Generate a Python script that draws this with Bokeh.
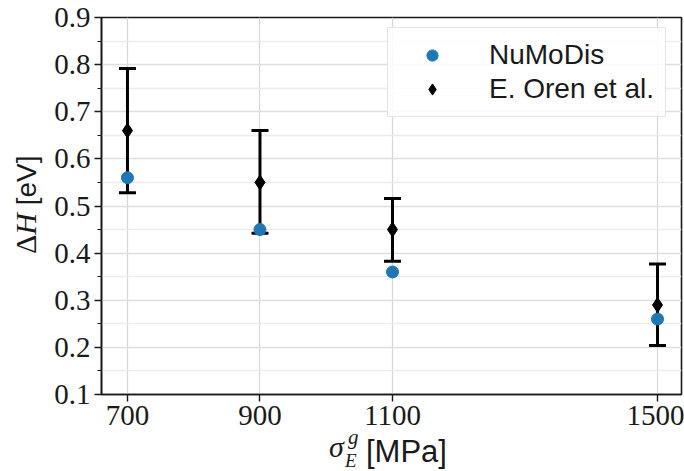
import math
from bokeh.plotting import figure
from bokeh.models import (ColumnDataSource, Whisker, TeeHead, Range1d, FixedTicker,
                          Legend, LegendItem, Div)
from bokeh.layouts import column, row
from bokeh.embed import file_html
from bokeh.resources import INLINE

# ---------------- data ----------------
stress = [700, 900, 1100, 1500]
numodis_dH = [0.56, 0.45, 0.36, 0.26]
oren_dH = [0.66, 0.55, 0.45, 0.29]
oren_lower = [0.528, 0.442, 0.383, 0.204]
oren_upper = [0.792, 0.660, 0.516, 0.377]

x_ticks = [700, 900, 1100, 1500]
x_tick_labels = ["700", "900", "1100", "1500"]
y_ticks = [0.1, 0.2, 0.3, 0.4, 0.5, 0.6, 0.7, 0.8, 0.9]
y_tick_labels = ["0.1", "0.2", "0.3", "0.4", "0.5", "0.6", "0.7", "0.8", "0.9"]
y_minor_ticks = [0.15, 0.25, 0.35, 0.45, 0.55, 0.65, 0.75, 0.85]

series_names = ["NuMoDis", "E. Oren et al."]

# ---------------- layout (page pixels) ----------------
PAGE_W, PAGE_H = 684, 471
YLAB_W = 46                 # column holding the rotated y label
FIG_H = 440                 # figure height; x label strip below it
XLAB_H = PAGE_H - FIG_H
FRAME_LEFT, FRAME_RIGHT, FRAME_TOP, FRAME_BOTTOM = 101, 681, 17, 394

SERIF = "Liberation Serif"
SANS = "Liberation Sans"

p = figure(width=PAGE_W - YLAB_W, height=FIG_H, output_backend="svg",
           toolbar_location=None,
           x_range=Range1d(660.8, 1536.2), y_range=Range1d(0.1, 0.9),
           min_border_left=FRAME_LEFT - YLAB_W, min_border_right=PAGE_W - FRAME_RIGHT,
           min_border_top=FRAME_TOP, min_border_bottom=FIG_H - FRAME_BOTTOM,
           margin=(0, 0, 0, 0))

p.background_fill_color = "white"
p.border_fill_color = "white"
p.outline_line_color = "#1a1a1a"
p.outline_line_width = 1.6

# axes
p.xaxis.ticker = FixedTicker(ticks=x_ticks)
p.xaxis.major_label_overrides = dict(zip(x_ticks, x_tick_labels))
p.yaxis.ticker = FixedTicker(ticks=y_ticks, minor_ticks=y_minor_ticks)
p.yaxis.major_label_overrides = dict(zip(y_ticks, y_tick_labels))

for ax in (p.xaxis[0], p.yaxis[0]):
    ax.axis_line_color = "#1a1a1a"
    ax.axis_line_width = 1.6
    ax.major_tick_line_color = "#1a1a1a"
    ax.major_tick_line_width = 1.4
    ax.major_tick_in = 0
    ax.major_tick_out = 7
    ax.minor_tick_line_color = "#1a1a1a"
    ax.minor_tick_line_width = 1.0
    ax.minor_tick_in = 0
    ax.minor_tick_out = 4
    ax.major_label_text_font = SERIF
    ax.major_label_text_font_size = "29px"
    ax.major_label_text_color = "#1a1a1a"
    ax.major_label_standoff = 4
p.xaxis.minor_tick_line_color = None

# grids
p.xgrid.ticker = FixedTicker(ticks=x_ticks)
p.xgrid.grid_line_color = "#d6d6d6"
p.xgrid.grid_line_width = 1.2
p.ygrid.ticker = FixedTicker(ticks=y_ticks, minor_ticks=y_minor_ticks)
p.ygrid.grid_line_color = "#dedede"
p.ygrid.grid_line_width = 1.4
p.ygrid.minor_grid_line_color = "#ececec"
p.ygrid.minor_grid_line_width = 1.4

# data
src = ColumnDataSource(dict(x=stress, numodis=numodis_dH, oren=oren_dH,
                            lower=oren_lower, upper=oren_upper))

whisk = Whisker(source=src, base="x", lower="lower", upper="upper",
                line_color="black", line_width=3, level="underlay",
                upper_head=TeeHead(size=17, line_width=3, line_color="black"),
                lower_head=TeeHead(size=17, line_width=3, line_color="black"))
p.add_layout(whisk)

r_oren = p.scatter("x", "oren", source=src, marker="diamond", size=15,
                   fill_color="black", line_color="black")
r_num = p.scatter("x", "numodis", source=src, marker="circle", size=12,
                  fill_color="#1f77b4", line_color="#1f77b4")

# legend-only glyph: vertical bar of the error-bar symbol
r_bar = p.scatter(x=[], y=[], marker="dash", angle=math.pi / 2, size=12,
                  line_color="black", line_width=2.5)

legend = Legend(items=[LegendItem(label=series_names[0], renderers=[r_num]),
                       LegendItem(label=series_names[1], renderers=[r_bar, r_oren])],
                location=(387 - FRAME_LEFT, FRAME_BOTTOM - 117))
legend.label_text_font = SANS
legend.label_text_font_size = "28px"
legend.label_text_line_height = 0.9
legend.label_text_color = "#1a1a1a"
legend.glyph_width = 66
legend.glyph_height = 28
legend.label_height = 20
legend.label_standoff = 24
legend.padding = 11
legend.spacing = 2
legend.margin = 0
legend.border_line_color = "#cccccc"
legend.border_line_width = 1
legend.background_fill_color = "white"
legend.background_fill_alpha = 0.85
p.add_layout(legend)

# ---------------- axis labels as real HTML text ----------------
INK = "#1a1a1a"


def piece(text, left, baseline, top0, font, size, style="normal", metric=0.8375):
    top = baseline - top0 - metric * size
    return (f'<div style="position:absolute;left:{left}px;top:{top:.1f}px;'
            f"font-family:'{font}';font-size:{size}px;font-style:{style};"
            f'line-height:{size}px;white-space:nowrap;color:{INK};">{text}</div>')


# y label: Delta H [eV], rotated, baseline at x=36, starting at y=254
y_html = (f'<div style="position:relative;width:{YLAB_W}px;height:{FIG_H}px;">'
          f'<div style="position:absolute;left:{36 - 0.8375 * 30:.1f}px;top:254px;'
          f'transform:rotate(-90deg);transform-origin:0 0;white-space:nowrap;'
          f"font-family:'{SERIF}';font-size:30px;line-height:30px;color:{INK};\">"
          f'<span>Δ</span><span style="font-style:italic;">H</span>'
          f"<span style=\"font-family:'{SANS}';font-size:28px;\"> [eV]</span>"
          f'</div></div>')

x_html = (f'<div style="position:relative;width:{PAGE_W}px;height:{XLAB_H}px;">'
          + piece("σ", 329, 457, FIG_H, SERIF, 30, "italic")
          + piece("g", 348, 445, FIG_H, SERIF, 21, "italic")
          + piece("E", 345, 467, FIG_H, SERIF, 19, "italic")
          + piece("[MPa]", 366, 462, FIG_H, SANS, 31, "normal", 0.8465)
          + '</div>')

ydiv = Div(text=y_html, width=YLAB_W, height=FIG_H, margin=(0, 0, 0, 0))
xdiv = Div(text=x_html, width=PAGE_W, height=XLAB_H, margin=(0, 0, 0, 0))

layout = column(row(ydiv, p, spacing=0, margin=(0, 0, 0, 0)), xdiv,
                spacing=0, margin=(0, 0, 0, 0))

open("out.html", "w", encoding="utf-8").write(file_html(layout, INLINE))
